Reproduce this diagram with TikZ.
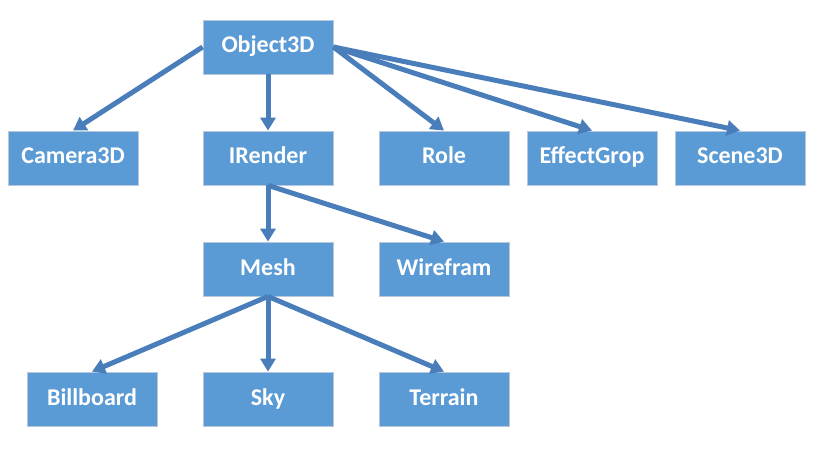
\documentclass[tikz,border=0pt]{standalone}
\usepackage{fontspec}
\setmainfont{Carlito}
\usetikzlibrary{arrows.meta}
\definecolor{boxblue}{HTML}{5B9BD5}
\definecolor{arrowblue}{HTML}{4A7EBB}
\definecolor{boxline}{HTML}{B8C8DC}
\begin{document}
\begin{tikzpicture}[x=1pt,y=-1pt,
  cls/.style={rectangle,fill=boxblue,draw=boxline,line width=0.8pt,minimum width=130pt,minimum height=54pt,inner sep=0pt,text height=16pt,text depth=4pt,text=white,font=\fontsize{24}{28}\selectfont\bfseries},
  inherit/.style={draw=arrowblue,line width=5pt,-{Triangle[width=15pt,length=13pt]}}]
\useasboundingbox (0,0) rectangle (821,462);
\node[cls] (obj) at (268,47) {Object3D};
\node[cls] (cam) at (73,158) {Camera3D};
\node[cls] (ren) at (268,158) {IRender};
\node[cls] (role) at (444,158) {Role};
\node[cls] (eff) at (592,158) {EffectGrop};
\node[cls] (scn) at (740,158) {Scene3D};
\node[cls] (mesh) at (268,269) {Mesh};
\node[cls] (wire) at (444,269) {Wirefram};
\node[cls] (bill) at (92,399) {Billboard};
\node[cls] (sky) at (268,399) {Sky};
\node[cls] (ter) at (444,399) {Terrain};
\draw[inherit] (obj.west) -- (cam.north);
\draw[inherit] (obj.south) -- (ren.north);
\draw[inherit] (obj.east) -- (role.north);
\draw[inherit] (obj.east) -- (eff.north);
\draw[inherit] (obj.east) -- (scn.north);
\draw[inherit] (ren.south) -- (mesh.north);
\draw[inherit] (ren.south) -- (wire.north);
\draw[inherit] (mesh.south) -- (bill.north);
\draw[inherit] (mesh.south) -- (sky.north);
\draw[inherit] (mesh.south) -- (ter.north);
\end{tikzpicture}
\end{document}
